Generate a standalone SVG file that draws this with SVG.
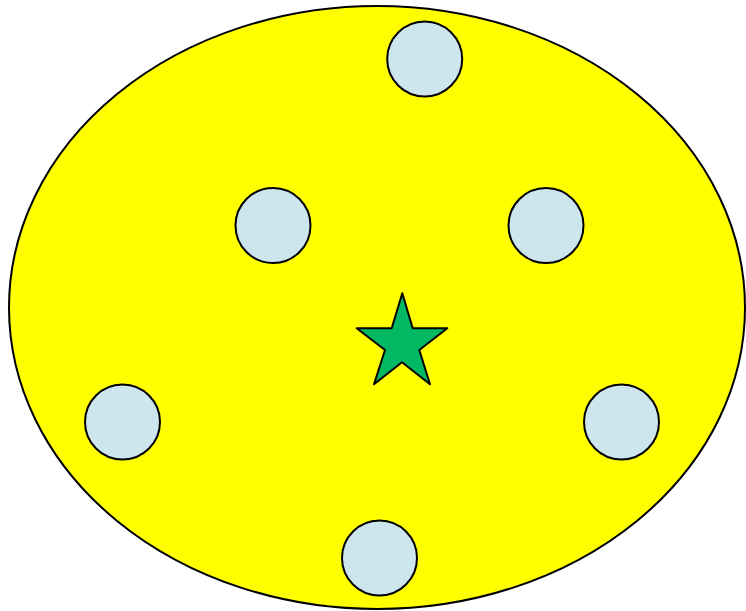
<svg xmlns="http://www.w3.org/2000/svg" width="746" height="611" viewBox="0 0 746 611">
<style>
.c{fill:#CDE5EC;stroke:#000;stroke-width:2}
</style>
<rect width="746" height="611" fill="#fff"/>
<g id="field"><ellipse cx="377" cy="307.5" rx="368" ry="301.5" fill="#FFFF00" stroke="#000" stroke-width="2"/></g>
<g id="n1"><circle class="c" cx="424.7" cy="59" r="37.5"/></g>
<g id="n2"><circle class="c" cx="273" cy="225.5" r="37.5"/></g>
<g id="n3"><circle class="c" cx="546" cy="225.5" r="37.5"/></g>
<g id="n4"><circle class="c" cx="122.5" cy="422" r="37.5"/></g>
<g id="n5"><circle class="c" cx="621.5" cy="422" r="37.5"/></g>
<g id="n6"><circle class="c" cx="379.5" cy="558" r="37.5"/></g>
<g id="star"><polygon points="402.3,293.3 412.7,328.3 447.3,328.3 419.3,350 430,384.3 402,362.3 374,384.3 385,350 356.7,328.3 391.7,328.3" fill="#00B962" stroke="#000" stroke-width="2" stroke-linejoin="round"/></g>
<g id="connectors"></g>
</svg>
